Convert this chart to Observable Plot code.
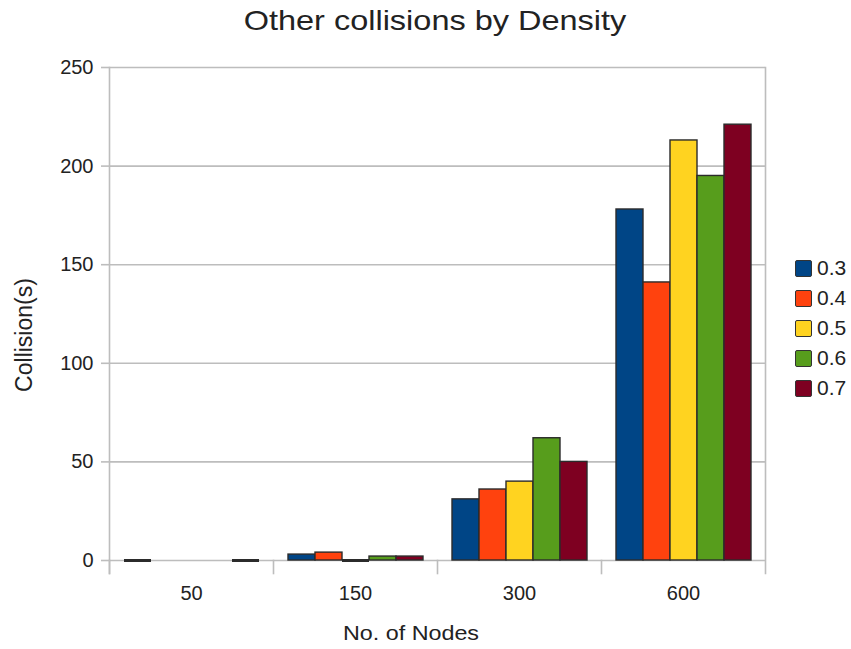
<!DOCTYPE html>
<html>
<head>
<meta charset="utf-8">
<script src="https://cdn.jsdelivr.net/npm/d3@7"></script>
<script src="https://cdn.jsdelivr.net/npm/@observablehq/plot@0.6"></script>
<style>
  body { margin: 0; background: #fff; }
  #wrap { position: relative; width: 851px; height: 649px; font-family: "Liberation Sans", Arial, sans-serif; color: #222; background: #fff; }
  #chart { position: absolute; left: 0; top: 50px; z-index: 0; }
  .ov { position: absolute; z-index: 1; white-space: nowrap; }
  #title { left: 435px; top: 5px; font-size: 28px; line-height: 32px; transform: translateX(-50%) scaleX(1.16); }
  #ylabel { left: 24px; top: 335px; font-size: 23px; line-height: 26px; transform: translate(-50%, -50%) rotate(-90deg); }
  #xlabel { left: 411px; top: 621px; font-size: 21px; line-height: 24px; transform: translateX(-50%) scaleX(1.11); }
  #legend { left: 795px; top: 253px; font-size: 21px; }
  .li { display: flex; align-items: center; height: 30px; }
  .sw { width: 15px; height: 15px; border: 1.6px solid #333; border-radius: 2px; margin-right: 5px; }
</style>
</head>
<body>
<div id="wrap">
  <div id="chart"></div>
  <div id="title" class="ov">Other collisions by Density</div>
  <div id="ylabel" class="ov">Collision(s)</div>
  <div id="xlabel" class="ov">No. of Nodes</div>
  <div id="legend" class="ov"></div>
</div>
<script>
const nodes = ["50", "150", "300", "600"];
const densities = ["0.3", "0.4", "0.5", "0.6", "0.7"];
const colors = ["#004586", "#ff420e", "#ffd320", "#579d1c", "#7e0021"];
const v03 = [0, 3, 31, 178];
const v04 = [null, 4, 36, 141];
const v05 = [null, 0, 40, 213];
const v06 = [null, 2, 62, 195];
const v07 = [0, 2, 50, 221];
const yTicks = [0, 50, 100, 150, 200, 250];

const series = [v03, v04, v05, v06, v07];
const data = [];
nodes.forEach((n, i) => densities.forEach((d, j) => data.push({nodes: n, density: d, value: series[j][i]})));

const grid = "#bdbdbd";
const chart = Plot.plot({
  width: 851,
  height: 599,
  marginTop: 17,
  marginBottom: 89,
  marginLeft: 108,
  marginRight: 86,
  style: {fontFamily: "'Liberation Sans', Arial, sans-serif", fontSize: "20px", color: "#222", background: "transparent"},
  fx: {domain: nodes, padding: 0, axis: null},
  x: {domain: densities, paddingInner: 0, paddingOuter: 0.5, axis: null},
  y: {domain: [0, 250], axis: null},
  color: {domain: densities, range: colors},
  marks: [
    Plot.gridY(yTicks, {stroke: grid, strokeOpacity: 1, strokeWidth: 1.6}),
    Plot.frame({anchor: "left", facetAnchor: "left", insetBottom: -13, stroke: grid, strokeWidth: 1.6}),
    Plot.frame({anchor: "right", facetAnchor: "right", insetBottom: -13, stroke: grid, strokeWidth: 1.6}),
    Plot.frame({anchor: "left", insetTop: 493, insetBottom: -13, stroke: grid, strokeWidth: 1.6}),
    Plot.axisY(yTicks, {tickSize: 8, tickPadding: 8, stroke: grid, strokeWidth: 1.6, fill: "#222", fontSize: 20, label: null}),
    Plot.axisFx({anchor: "bottom", tickSize: 0, tickPadding: 25, fill: "#222", fontSize: 20, label: null}),
    Plot.barY(data.filter(d => d.value !== null), {fx: "nodes", x: "density", y: "value", fill: "density", stroke: "#2b2b2b", strokeWidth: 1.4}),
    Plot.tickY(data.filter(d => d.value === 0), {fx: "nodes", x: "density", y: "value", stroke: "#2b2b2b", strokeWidth: 3})
  ]
});
document.getElementById("chart").appendChild(chart);

const legend = document.getElementById("legend");
densities.forEach((d, i) => {
  const row = document.createElement("div");
  row.className = "li";
  row.innerHTML = `<span class="sw" style="background:${colors[i]}"></span><span>${d}</span>`;
  legend.appendChild(row);
});
</script>
</body>
</html>
